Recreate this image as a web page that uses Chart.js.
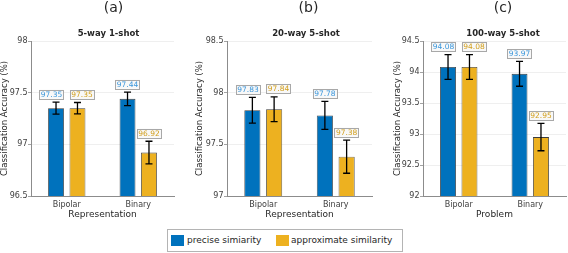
<!DOCTYPE html>
<html>
<head>
<title>Classification Accuracy</title>
<style>
  body { margin: 0; background: #fff; font-family: "DejaVu Sans", sans-serif; }
  #wrap { position: relative; width: 568px; height: 253px; }
  canvas { position: absolute; top: 0; }
  #legend { position: absolute; left: 167px; top: 229px; width: 234px; height: 21px;
            border: 1px solid #b4b4b4; font-size: 9px; color: #262626; }
  .sw { position: absolute; top: 5px; width: 13px; height: 11px; }
  .lt { position: absolute; top: 5px; line-height: 11px; white-space: nowrap; }
</style>
</head>
<body>
<div id="wrap">
  <canvas id="panelA" width="180" height="220" style="left:0px"></canvas>
  <canvas id="panelB" width="185" height="220" style="left:190px"></canvas>
  <canvas id="panelC" width="188" height="220" style="left:380px"></canvas>
  <div id="legend">
    <div class="sw" style="left:3px;background:#0072BD"></div>
    <div class="lt" style="left:19px">precise simiarity</div>
    <div class="sw" style="left:108px;background:#EDB120"></div>
    <div class="lt" style="left:123px">approximate similarity</div>
  </div>
</div>

<script src="https://cdn.jsdelivr.net/npm/chart.js"></script>
<script>
  const categories = ['Bipolar', 'Binary'];

  // (a) 5-way 1-shot
  const preciseA = [97.35, 97.44];
  const approxA = [97.35, 96.92];
  const errPreciseA = [0.058, 0.065];
  const errApproxA = [0.055, 0.11];

  // (b) 20-way 5-shot
  const preciseB = [97.83, 97.78];
  const approxB = [97.84, 97.38];
  const errPreciseB = [0.125, 0.135];
  const errApproxB = [0.12, 0.16];

  // (c) 100-way 5-shot
  const preciseC = [94.08, 93.97];
  const approxC = [94.08, 92.95];
  const errPreciseC = [0.2, 0.2];
  const errApproxC = [0.2, 0.22];

  const BLUE = '#0072BD';
  const YELLOW = '#EDB120';
  const labelColors = ['#3b97dc', '#d29f1c'];

  Chart.defaults.font.family = 'DejaVu Sans';
  Chart.defaults.color = '#404040';

  // error bars + value boxes
  const errorLabels = {
    id: 'errorLabels',
    afterDatasetsDraw(chart) {
      const ctx = chart.ctx;
      const y = chart.scales.y;
      const boxes = [];
      ctx.save();
      ctx.font = '7.5px "DejaVu Sans"';
      chart.data.datasets.forEach((ds, di) => {
        const meta = chart.getDatasetMeta(di);
        meta.data.forEach((bar, i) => {
          const v = ds.data[i];
          const e = ds.errors[i];
          const top = y.getPixelForValue(v + e);
          const bot = y.getPixelForValue(v - e);
          ctx.strokeStyle = '#000';
          ctx.lineWidth = 1.3;
          ctx.beginPath();
          ctx.moveTo(bar.x, top); ctx.lineTo(bar.x, bot);
          ctx.moveTo(bar.x - 3.5, top); ctx.lineTo(bar.x + 3.5, top);
          ctx.moveTo(bar.x - 3.5, bot); ctx.lineTo(bar.x + 3.5, bot);
          ctx.stroke();

          const txt = v.toFixed(2);
          const w = ctx.measureText(txt).width + 3;
          const h = 9;
          boxes.push({ di, i, txt, w, h, cx: bar.x, y: top - 3.5 - h });
        });
      });

      // push apart labels of the same category when they collide
      categories.forEach((c, i) => {
        const pair = boxes.filter(b => b.i === i);
        if (pair.length < 2) return;
        const [a, b] = pair;
        const gap = (b.cx - b.w / 2) - (a.cx + a.w / 2);
        if (Math.abs(a.y - b.y) < a.h && gap < 6) {
          const d = (6 - gap) / 2;
          a.cx -= d; b.cx += d;
        }
      });

      boxes.forEach(b => {
        ctx.fillStyle = '#f8f8f8';
        ctx.fillRect(b.cx - b.w / 2, b.y, b.w, b.h);
        ctx.strokeStyle = '#a8a8a8';
        ctx.lineWidth = 1;
        ctx.strokeRect(Math.round(b.cx - b.w / 2) + 0.5, Math.round(b.y) + 0.5, Math.round(b.w), b.h);
        ctx.fillStyle = labelColors[b.di];
        ctx.textAlign = 'center';
        ctx.textBaseline = 'middle';
        ctx.fillText(b.txt, b.cx, b.y + b.h / 2 + 0.5);
      });
      ctx.restore();
    }
  };

  // panel letter and subplot title
  const panelTitles = {
    id: 'panelTitles',
    afterDraw(chart, args, opts) {
      const ctx = chart.ctx;
      const cx = (chart.chartArea.left + chart.chartArea.right) / 2;
      ctx.save();
      ctx.fillStyle = '#262626';
      ctx.textAlign = 'center';
      ctx.textBaseline = 'middle';
      ctx.font = '14px "DejaVu Sans"';
      ctx.fillText(opts.letter, cx + opts.letterDx, 8);
      ctx.font = 'bold 8.5px "DejaVu Sans"';
      ctx.fillText(opts.title, cx + opts.titleDx, 34);
      ctx.restore();
    }
  };

  function makePanel(id, p) {
    const ctx = document.getElementById(id).getContext('2d');
    return new Chart(ctx, {
      type: 'bar',
      data: {
        labels: categories,
        datasets: [
          { label: 'precise simiarity', data: p.precise, errors: p.errPrecise,
            backgroundColor: BLUE, borderColor: '#3c3c3c', borderWidth: 0.8 },
          { label: 'approximate similarity', data: p.approx, errors: p.errApprox,
            backgroundColor: YELLOW, borderColor: '#3c3c3c', borderWidth: 0.8 }
        ]
      },
      options: {
        responsive: false,
        animation: false,
        events: [],
        layout: { padding: { left: p.padLeft, right: p.padRight, top: 41, bottom: 0 } },
        datasets: { bar: { categoryPercentage: 0.6, barPercentage: 0.74 } },
        plugins: {
          legend: { display: false },
          tooltip: { enabled: false },
          panelTitles: { letter: p.letter, title: p.title, letterDx: p.letterDx, titleDx: p.titleDx }
        },
        scales: {
          x: {
            grid: { display: false, drawTicks: false },
            border: { color: '#8c8c8c', width: 1 },
            ticks: { padding: 4, font: { size: 8 }, color: '#404040' },
            title: { display: true, text: p.xTitle, font: { size: 9 }, color: '#262626',
                     padding: { top: 0, bottom: 0 } },
            afterFit(s) { s.height = 24; }
          },
          y: {
            min: p.min, max: p.max,
            grid: { color: '#ebebeb', lineWidth: 0.8, drawTicks: true, tickLength: 3, tickColor: '#8c8c8c' },
            border: { color: '#8c8c8c', width: 1 },
            ticks: { stepSize: 0.5, padding: 0.5, font: { size: 8 }, color: '#404040',
                     callback: v => String(Number(v.toFixed(2))) },
            title: { display: true, text: 'Classification Accuracy (%)', font: { size: 8.5 }, color: '#262626',
                     padding: { top: 0, bottom: 0 } },
            afterFit(s) { s.width = p.yWidth; }
          }
        }
      },
      plugins: [errorLabels, panelTitles]
    });
  }

  makePanel('panelA', {
    precise: preciseA, approx: approxA, errPrecise: errPreciseA, errApprox: errApproxA,
    min: 96.5, max: 98, xTitle: 'Representation', letter: '(a)', title: '5-way 1-shot',
    padLeft: 0, padRight: 6, yWidth: 31, letterDx: 11, titleDx: 6
  });
  makePanel('panelB', {
    precise: preciseB, approx: approxB, errPrecise: errPreciseB, errApprox: errApproxB,
    min: 97, max: 98.5, xTitle: 'Representation', letter: '(b)', title: '20-way 5-shot',
    padLeft: 5, padRight: 3, yWidth: 32, letterDx: 9, titleDx: 6.5
  });
  makePanel('panelC', {
    precise: preciseC, approx: approxC, errPrecise: errPreciseC, errApprox: errApproxC,
    min: 92, max: 94.5, xTitle: 'Problem', letter: '(c)', title: '100-way 5-shot',
    padLeft: 13, padRight: 2, yWidth: 30, letterDx: 8.5, titleDx: 8.5
  });
</script>
</body>
</html>
